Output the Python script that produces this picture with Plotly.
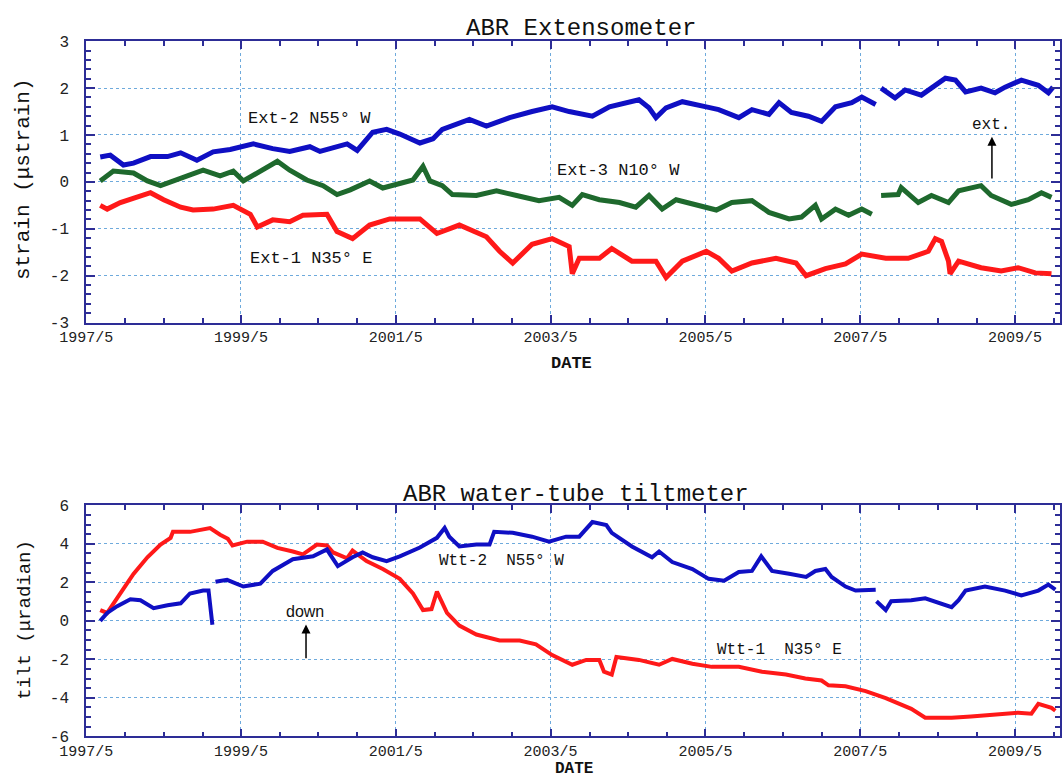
import plotly.graph_objects as go
import pandas as pd

# ---------------- data (decimal years, values) ----------------
ext2_t = [1997.51, 1997.64, 1997.81, 1997.94, 1998.16, 1998.38, 1998.55, 1998.76, 1998.97, 1999.19,
          1999.49, 1999.74, 1999.96, 2000.22, 2000.35, 2000.70, 2000.83, 2001.03, 2001.21, 2001.38,
          2001.64, 2001.81, 2001.93, 2002.28, 2002.50, 2002.80, 2003.09, 2003.35, 2003.57, 2003.87,
          2004.09, 2004.47, 2004.60, 2004.69, 2004.82, 2005.03, 2005.34, 2005.50, 2005.76, 2005.93,
          2006.15, 2006.28, 2006.44, 2006.66, 2006.83, 2007.01, 2007.22, 2007.35, 2007.53, None,
          2007.60, 2007.78, 2007.91, 2008.12, 2008.43, 2008.56, 2008.69, 2008.89, 2009.07, 2009.20,
          2009.41, 2009.63, 2009.76, 2009.82]
ext2_v = [0.53, 0.57, 0.36, 0.40, 0.54, 0.54, 0.62, 0.46, 0.64, 0.69,
          0.81, 0.71, 0.65, 0.75, 0.65, 0.81, 0.67, 1.06, 1.12, 1.02,
          0.83, 0.92, 1.12, 1.33, 1.19, 1.37, 1.50, 1.60, 1.50, 1.40,
          1.60, 1.75, 1.58, 1.37, 1.58, 1.71, 1.60, 1.54, 1.37, 1.54,
          1.44, 1.69, 1.48, 1.40, 1.29, 1.60, 1.69, 1.81, 1.65, None,
          2.00, 1.79, 1.96, 1.85, 2.21, 2.17, 1.92, 2.00, 1.90, 2.02,
          2.17, 2.06, 1.90, 2.02]

ext3_t = [1997.51, 1997.68, 1997.94, 1998.12, 1998.29, 1998.45, 1998.67, 1998.84, 1999.06, 1999.23,
          1999.36, 1999.54, 1999.80, 1999.96, 2000.18, 2000.39, 2000.57, 2000.74, 2000.99, 2001.16,
          2001.38, 2001.55, 2001.68, 2001.77, 2001.93, 2002.06, 2002.37, 2002.63, 2002.89, 2003.18,
          2003.44, 2003.61, 2003.74, 2003.96, 2004.22, 2004.43, 2004.60, 2004.77, 2004.95, 2005.21,
          2005.47, 2005.67, 2005.93, 2006.15, 2006.41, 2006.57, 2006.75, 2006.83, 2007.01, 2007.18,
          2007.35, 2007.48, None, 2007.60, 2007.82, 2007.86, 2008.08, 2008.25, 2008.47, 2008.60,
          2008.89, 2009.02, 2009.28, 2009.50, 2009.67, 2009.80]
ext3_v = [0.02, 0.23, 0.19, 0.02, -0.08, 0.02, 0.15, 0.25, 0.13, 0.23,
          0.02, 0.19, 0.44, 0.25, 0.04, -0.08, -0.27, -0.17, 0.02, -0.13,
          -0.02, 0.04, 0.33, 0.02, -0.08, -0.27, -0.29, -0.19, -0.29, -0.40,
          -0.33, -0.50, -0.27, -0.38, -0.44, -0.54, -0.29, -0.58, -0.38, -0.50,
          -0.60, -0.44, -0.40, -0.65, -0.79, -0.75, -0.50, -0.79, -0.58, -0.71,
          -0.58, -0.69, None, -0.29, -0.27, -0.12, -0.44, -0.29, -0.44, -0.19,
          -0.08, -0.29, -0.48, -0.38, -0.23, -0.33]

ext1_t = [1997.51, 1997.60, 1997.77, 1997.99, 1998.16, 1998.33, 1998.55, 1998.71, 1998.97, 1999.23,
          1999.45, 1999.54, 1999.74, 1999.96, 2000.13, 2000.44, 2000.57, 2000.77, 2000.99, 2001.25,
          2001.64, 2001.86, 2002.15, 2002.50, 2002.67, 2002.84, 2003.09, 2003.35, 2003.57, 2003.61,
          2003.70, 2003.96, 2004.12, 2004.38, 2004.69, 2004.82, 2005.03, 2005.34, 2005.50, 2005.67,
          2005.93, 2006.24, 2006.50, 2006.63, 2006.88, 2007.14, 2007.35, 2007.66, 2007.95, 2008.21,
          2008.30, 2008.38, 2008.47, 2008.49, 2008.60, 2008.89, 2009.15, 2009.37, 2009.59, 2009.80]
ext1_v = [-0.50, -0.58, -0.44, -0.33, -0.23, -0.38, -0.54, -0.60, -0.58, -0.50,
          -0.69, -0.96, -0.81, -0.85, -0.71, -0.69, -1.06, -1.21, -0.92, -0.79,
          -0.79, -1.10, -0.92, -1.17, -1.48, -1.73, -1.33, -1.21, -1.38, -1.96,
          -1.63, -1.63, -1.42, -1.69, -1.69, -2.04, -1.69, -1.48, -1.63, -1.90,
          -1.73, -1.63, -1.73, -2.00, -1.85, -1.75, -1.54, -1.63, -1.63, -1.48,
          -1.21, -1.27, -1.69, -1.96, -1.69, -1.83, -1.90, -1.83, -1.94, -1.96]

wtt1_t = [1997.51, 1997.60, 1997.77, 1997.94, 1998.12, 1998.29, 1998.42, 1998.45, 1998.67, 1998.93,
          1999.06, 1999.16, 1999.22, 1999.41, 1999.61, 1999.80, 2000.00, 2000.13, 2000.31, 2000.44,
          2000.52, 2000.70, 2000.77, 2000.95, 2001.16, 2001.38, 2001.55, 2001.68, 2001.79, 2001.86,
          2001.99, 2002.15, 2002.37, 2002.67, 2002.93, 2003.14, 2003.35, 2003.61, 2003.79, 2003.96,
          2004.02, 2004.12, 2004.18, 2004.47, 2004.73, 2004.90, 2005.16, 2005.41, 2005.76, 2006.06,
          2006.37, 2006.62, 2006.83, 2006.92, 2007.14, 2007.40, 2007.66, 2007.82, 2007.99, 2008.17,
          2008.51, 2008.76, 2009.11, 2009.37, 2009.54, 2009.63, 2009.80, 2009.85]
wtt1_v = [0.56, 0.41, 1.42, 2.44, 3.30, 3.96, 4.31, 4.62, 4.62, 4.82,
          4.47, 4.26, 3.91, 4.11, 4.11, 3.79, 3.60, 3.45, 3.96, 3.91,
          3.55, 3.25, 3.65, 3.10, 2.69, 2.18, 1.42, 0.56, 0.61, 1.52,
          0.41, -0.25, -0.71, -1.02, -1.02, -1.22, -1.78, -2.28, -2.03, -2.03,
          -2.64, -2.79, -1.88, -2.03, -2.28, -1.98, -2.23, -2.39, -2.39, -2.64,
          -2.79, -2.99, -3.10, -3.35, -3.40, -3.65, -4.01, -4.26, -4.57, -5.03,
          -5.03, -4.97, -4.87, -4.77, -4.82, -4.31, -4.52, -4.67]

wtt2_t = [1997.51, 1997.60, 1997.73, 1997.90, 1998.03, 1998.20, 1998.38, 1998.55, 1998.67, 1998.84,
          1998.91, 1998.93, 1998.96, None, 1999.00, 1999.15, 1999.36, 1999.58, 1999.74, 2000.00,
          2000.26, 2000.44, 2000.48, 2000.58, 2000.77, 2000.90, 2001.03, 2001.21, 2001.38, 2001.64,
          2001.86, 2001.96, 2002.02, 2002.15, 2002.37, 2002.54, 2002.60, 2002.84, 2003.09, 2003.31,
          2003.53, 2003.70, 2003.87, 2004.05, 2004.12, 2004.38, 2004.64, 2004.73, 2004.90, 2005.16,
          2005.37, 2005.57, 2005.76, 2005.93, 2006.05, 2006.19, 2006.41, 2006.63, 2006.75, 2006.88,
          2006.96, 2007.14, 2007.27, 2007.53, None, 2007.54, 2007.66, 2007.73, 2007.99, 2008.17,
          2008.43, 2008.51, 2008.60, 2008.69, 2008.94, 2009.20, 2009.41, 2009.63, 2009.76, 2009.85]
wtt2_v = [0.00, 0.41, 0.76, 1.12, 1.07, 0.66, 0.81, 0.91, 1.42, 1.57,
          1.57, 0.76, -0.20, None, 2.03, 2.13, 1.78, 1.93, 2.59, 3.20,
          3.35, 3.71, 3.45, 2.84, 3.30, 3.55, 3.30, 3.10, 3.35, 3.81,
          4.31, 4.82, 4.37, 3.86, 3.96, 3.96, 4.62, 4.57, 4.37, 4.11,
          4.37, 4.37, 5.13, 4.97, 4.57, 3.86, 3.30, 3.60, 3.05, 2.69,
          2.18, 2.08, 2.54, 2.59, 3.35, 2.59, 2.44, 2.28, 2.59, 2.69,
          2.28, 1.78, 1.57, 1.62, None, 1.02, 0.56, 1.02, 1.07, 1.17,
          0.81, 0.71, 1.07, 1.57, 1.78, 1.57, 1.32, 1.57, 1.88, 1.62]

x_tick_years = [1997, 1999, 2001, 2003, 2005, 2007, 2009]
x_tick_labels = ["1997/5", "1999/5", "2001/5", "2003/5", "2005/5", "2007/5", "2009/5"]
strain_ticks = [-3, -2, -1, 0, 1, 2, 3]
tilt_ticks = [-6, -4, -2, 0, 2, 4, 6]


def yr2dt(y):
    if y is None:
        return None
    year = int(y)
    start = pd.Timestamp(year=year, month=1, day=1)
    end = pd.Timestamp(year=year + 1, month=1, day=1)
    return start + (end - start) * (y - year)


W, H = 1062, 784
L, R = 86, 0


def px(xpix):
    return (xpix - L) / (W - L - R)


def py(ypix):
    return (H - ypix) / H


AX = "rgb(45,45,150)"
GRID = "rgb(110,170,220)"
BLUE = "rgb(15,15,195)"
GREEN = "rgb(30,105,45)"
RED = "rgb(255,25,25)"
MONO = "Liberation Mono, DejaVu Sans Mono, monospace"
TXT = "#111111"

fig = go.Figure()


def add(t, v, color, xa, ya, width):
    fig.add_trace(go.Scatter(x=[yr2dt(a) for a in t], y=v, mode="lines",
                             line=dict(color=color, width=width),
                             connectgaps=False, xaxis=xa, yaxis=ya,
                             showlegend=False, hoverinfo="skip"))


add(ext2_t, ext2_v, BLUE, "x", "y", 5)
add(ext3_t, ext3_v, GREEN, "x", "y", 5)
add(ext1_t, ext1_v, RED, "x", "y", 5)
add(wtt1_t, wtt1_v, RED, "x2", "y2", 4)
add(wtt2_t, wtt2_v, BLUE, "x2", "y2", 4)

xrange = [pd.Timestamp("1997-04-30"), yr2dt(2009.91)]
xtickvals = [pd.Timestamp(year=y, month=5, day=1) for y in x_tick_years]

xcommon = dict(type="date", range=xrange, tickmode="array", tickvals=xtickvals,
               ticktext=x_tick_labels, ticks="inside", ticklen=8, tickcolor=AX,
               tickwidth=1.5,
               minor=dict(dtick="M6", tick0="1997-05-01", ticks="inside", ticklen=5,
                          tickcolor=AX, tickwidth=1.5, showgrid=False),
               showgrid=True, gridcolor=GRID, griddash="dot", gridwidth=1,
               showline=True, linecolor=AX, linewidth=1.5, mirror="allticks",
               tickfont=dict(family=MONO, size=15, color="#222"),
               zeroline=False, domain=[0, 1], ticklabelstandoff=0)

ycommon = dict(ticks="inside", ticklen=9, tickcolor=AX, tickwidth=1.5,
               showgrid=True, gridcolor=GRID, griddash="dot", gridwidth=1,
               showline=True, linecolor=AX, linewidth=1.5, mirror="allticks",
               tickfont=dict(family=MONO, size=16, color="#222"),
               zeroline=False, tickmode="array", ticklabelstandoff=12)

fig.update_layout(
    width=W, height=H,
    margin=dict(l=L, r=R, t=0, b=0),
    paper_bgcolor="white", plot_bgcolor="white",
    xaxis=dict(anchor="y", **xcommon),
    xaxis2=dict(anchor="y2", **xcommon),
    yaxis=dict(anchor="x", range=[-3, 3], domain=[py(323), py(35)],
               tickvals=strain_ticks, ticktext=[str(v) for v in strain_ticks],
               minor=dict(dtick=0.2, tick0=0, ticks="inside", ticklen=5, tickcolor=AX,
                          tickwidth=1.5, showgrid=False),
               **ycommon),
    yaxis2=dict(anchor="x2", range=[-6, 6], domain=[py(746.5), py(510)],
                tickvals=tilt_ticks, ticktext=[str(v) for v in tilt_ticks],
                minor=dict(dtick=0.5, tick0=0, ticks="inside", ticklen=5, tickcolor=AX,
                           tickwidth=1.5, showgrid=False),
                **ycommon),
)


def txt(x, y, s, size, family=MONO, bold=False, angle=0, yanchor="middle"):
    if bold:
        s = "<b>" + s + "</b>"
    fig.add_annotation(x=px(x), y=py(y), xref="paper", yref="paper", text=s,
                       showarrow=False, font=dict(family=family, size=size, color=TXT),
                       textangle=angle, xanchor="center", yanchor=yanchor,
                       borderpad=0)


txt(582, 22, "ABR Extensometer", 24)
txt(577, 499, "ABR water-tube tiltmeter", 24)
txt(24, 176, "strain (μstrain)", 21, angle=-90)
txt(24, 627, "tilt (μradian)", 19, angle=-90)
txt(572, 365, "DATE", 17, bold=True)
txt(575, 770, "DATE", 16, bold=True, yanchor="top")
txt(310, 114, "Ext-2 N55° W", 17)
txt(311, 257, "Ext-1 N35° E", 17)
txt(620, 167, "Ext-3 N10° W", 17)
txt(993, 121, "ext.", 16)
txt(502, 567, "Wtt-2  N55° W", 16)
txt(781, 658, "Wtt-1  N35° E", 16)
txt(305, 619, "down", 16, family="Liberation Sans, Arial, sans-serif")

# arrows
fig.add_annotation(x=yr2dt(2009.03), y=0.96, ax=yr2dt(2009.03), ay=0.04,
                   xref="x", yref="y", axref="x", ayref="y", text="",
                   showarrow=True, arrowhead=2, arrowsize=1.2, arrowwidth=1.5,
                   arrowcolor="black")
fig.add_annotation(x=yr2dt(2000.17), y=-0.19, ax=yr2dt(2000.17), ay=-2.02,
                   xref="x2", yref="y2", axref="x2", ayref="y2", text="",
                   showarrow=True, arrowhead=2, arrowsize=1.2, arrowwidth=1.5,
                   arrowcolor="black")

fig.write_html("out.html", config={"displayModeBar": False},
               post_script="document.body.style.margin='0';"
                           "document.body.style.overflow='hidden';")
